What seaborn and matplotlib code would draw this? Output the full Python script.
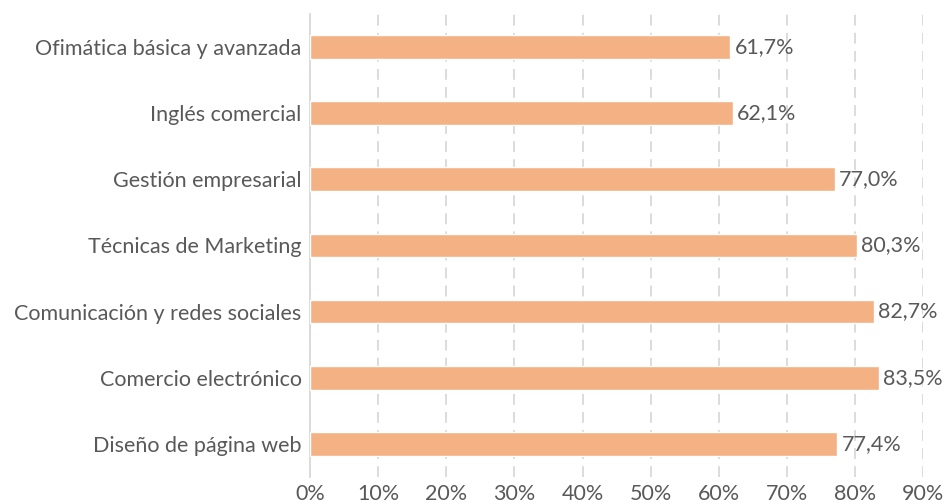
import seaborn as sns
import matplotlib.pyplot as plt
import pandas as pd
from matplotlib.ticker import FuncFormatter

categories = [
    "Ofimática básica y avanzada",
    "Inglés comercial",
    "Gestión empresarial",
    "Técnicas de Marketing",
    "Comunicación y redes sociales",
    "Comercio electrónico",
    "Diseño de página web",
]
values = [61.7, 62.1, 77.0, 80.3, 82.7, 83.5, 77.4]
x_ticks = [0, 10, 20, 30, 40, 50, 60, 70, 80, 90]

df = pd.DataFrame({"categoria": categories, "pct": values})

sns.set_style("white")
plt.rcParams['font.family'] = ['Lato', 'DejaVu Sans']
text_color = '#595959'

fig = plt.figure(figsize=(9.45, 5.04), dpi=100)
ax = fig.add_axes([0.328, 0.054, 0.649, 0.918])

sns.barplot(data=df, y="categoria", x="pct", color='#F4B183', saturation=1,
            width=0.36, orient='h', ax=ax, zorder=3)

ax.set_xlim(0, 90)
ax.set_ylim(6.5, -0.5)
ax.set_xticks(x_ticks)
ax.xaxis.set_major_formatter(FuncFormatter(lambda v, p: f"{v:.0f}%"))
ax.grid(axis='x', color='#D9D9D9', linestyle=(0, (6, 4)), linewidth=1.3, zorder=0)
ax.grid(axis='y', visible=False)

for s in ['top', 'right', 'bottom']:
    ax.spines[s].set_visible(False)
ax.spines['left'].set_color('#D9D9D9')
ax.spines['left'].set_linewidth(1.3)

ax.tick_params(axis='both', length=0, labelsize=15.5, colors=text_color)
ax.tick_params(axis='x', pad=5)
ax.tick_params(axis='y', pad=6)
ax.set_xlabel("")
ax.set_ylabel("")

for i, v in enumerate(values):
    ax.text(v + 0.6, i, f"{v:.1f}%".replace('.', ','), va='center', ha='left',
            fontsize=15.5, color=text_color)

fig.savefig("out.png", dpi=100)
